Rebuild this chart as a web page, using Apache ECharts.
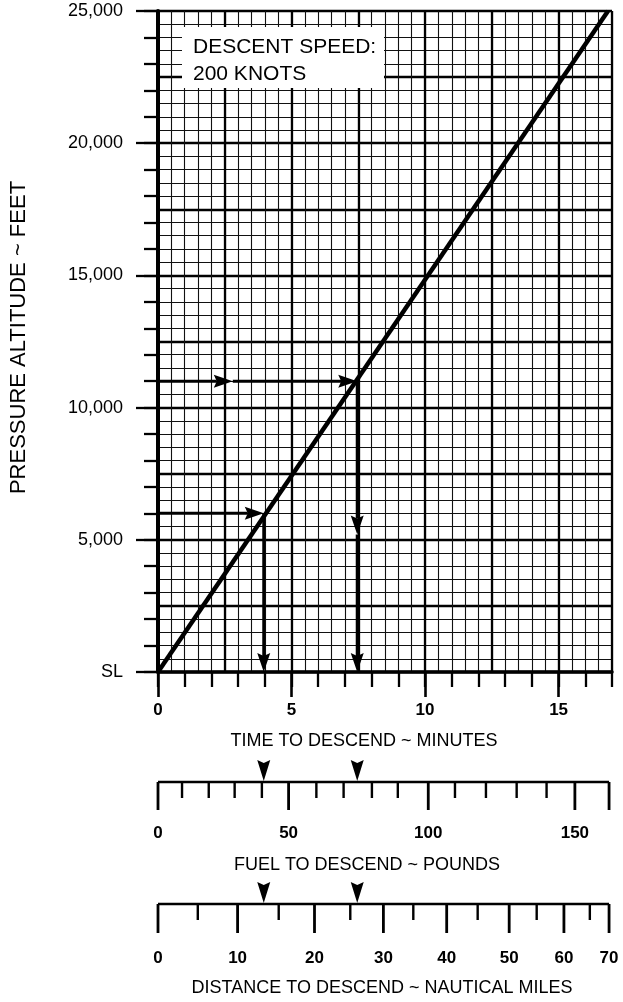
<!DOCTYPE html>
<html><head><meta charset="utf-8">
<script src="https://cdn.jsdelivr.net/npm/echarts@6/dist/echarts.min.js"></script>
<style>html,body{margin:0;padding:0;background:#fff}#c{width:623px;height:1002px}</style>
</head><body><div id="c"></div>
<script>
// ---- data ----
const timeLabelTicks = [0, 5, 10, 15];                 // minutes
const timeMax = 17;
const altMax = 25000;                                  // feet
const descentTime = [0, 16.85];                        // descent line (minutes)
const descentAlt = [0, 25000];                         // descent line (feet)
// example arrows: [x1, y1, x2, y2] in minutes / feet
const arrowSegments = [
  [0, 6000, 3.96, 6000],
  [3.96, 6000, 3.96, 0],
  [0, 11000, 2.8, 11000],
  [2.8, 11000, 7.46, 11000],
  [7.46, 11000, 7.46, 5200],
  [7.46, 5200, 7.46, 0]
];
// fuel scale: tick values (pounds) and their position on the time scale
const fuelTickValues = [0,10,20,30,40,50,60,70,80,90,100,110,120,130,140,150,160];
const fuelTickTimes  = [0,0.90,1.90,2.87,3.89,4.89,5.93,6.95,8.01,8.98,10.12,11.12,12.28,13.43,14.55,15.61,16.89];
const fuelLongTicks  = [0,50,100,150,160];
const fuelLabels     = [0,50,100,150];
// distance scale: tick values (nautical miles) and their position on the time scale
const distTickValues = [0,5,10,15,20,25,30,35,40,45,50,55,60,65,70];
const distTickTimes  = [0,1.49,2.98,4.52,5.86,7.20,8.44,9.56,10.81,11.97,13.15,14.18,15.20,16.17,16.89];
const distLongTicks  = [0,10,20,30,40,50,60,70];
const distLabels     = [0,10,20,30,40,50,60,70];
const scaleArrowTimes = [3.96, 7.46];

const FONT = '"Liberation Sans", Arial, Helvetica, sans-serif';
const BLACK = '#000';

function hiddenPart(){ return {show:false}; }

function arrowHead(tip, ux, uy, L, W, notch){
  const bx = tip[0] - ux*L, by = tip[1] - uy*L;
  const nx = -uy, ny = ux;
  return [
    [tip[0], tip[1]],
    [bx + nx*W, by + ny*W],
    [tip[0] - ux*(L-notch), tip[1] - uy*(L-notch)],
    [bx - nx*W, by - ny*W]
  ];
}

function scaleSeries(gridIdx, values, times, longs, labels, longLen, shortLen, labelOff){
  const longSet = new Set(longs), labelSet = new Set(labels);
  return [{
    type:'line', xAxisIndex: 3+gridIdx, yAxisIndex: 3+gridIdx,
    data: [[times[0],1],[times[times.length-1],1]],
    symbol:'none', silent:true, clip:false,
    lineStyle:{color:BLACK, width:2.6}
  },{
    type:'custom', xAxisIndex: 3+gridIdx, yAxisIndex: 3+gridIdx, clip:false, silent:true,
    data: values.map((v,i)=>[times[i], v]),
    renderItem: function(params, api){
      const v = api.value(1);
      const p = api.coord([api.value(0), 1]);
      const len = longSet.has(v) ? longLen : shortLen;
      const children = [{
        type:'line', shape:{x1:p[0], y1:p[1], x2:p[0], y2:p[1]+len},
        style:{stroke:BLACK, lineWidth: longSet.has(v)?2.8:2.4}
      }];
      if (labelSet.has(v)) {
        children.push({type:'text', style:{text:String(v), x:p[0], y:p[1]+labelOff,
          align:'center', verticalAlign:'middle', font:'bold 17px '+FONT, fill:BLACK}});
      }
      return {type:'group', children};
    }
  },{
    type:'custom', xAxisIndex: 3+gridIdx, yAxisIndex: 3+gridIdx, clip:false, silent:true,
    data: scaleArrowTimes.map(t=>[t,1]),
    renderItem: function(params, api){
      const p = api.coord([api.value(0), api.value(1)]);
      return {type:'polygon', shape:{points: arrowHead([p[0], p[1]-1], 0, 1, 21, 6.5, 3)},
        style:{fill:BLACK}};
    }
  }];
}

const chart = echarts.init(document.getElementById('c'), null, {renderer:'canvas'});
const option = {
  animation:false,
  backgroundColor:'#fff',
  textStyle:{fontFamily:FONT, color:BLACK},
  grid:[
    {left:158, right:11, top:11, bottom:330},
    {left:158, right:11, top:782, height:40},
    {left:158, right:11, top:904, height:40}
  ],
  xAxis:[
    {type:'value', gridIndex:0, min:0, max:timeMax, interval:0.5, position:'bottom',
      axisLine:hiddenPart(), axisTick:hiddenPart(), axisLabel:hiddenPart(),
      splitLine:{show:true, lineStyle:{color:'#111', width:1.1}}},
    {type:'value', gridIndex:0, min:0, max:timeMax, interval:2.5, position:'bottom',
      axisLine:hiddenPart(), axisTick:hiddenPart(), axisLabel:hiddenPart(),
      splitLine:{show:true, lineStyle:{color:BLACK, width:2.3}}},
    {type:'value', gridIndex:0, min:0, max:timeMax, interval:1, position:'bottom',
      axisLine:hiddenPart(), axisLabel:hiddenPart(), splitLine:hiddenPart(),
      axisTick:{show:true, length:15, lineStyle:{color:BLACK, width:2.3}}},
    {type:'value', gridIndex:0, min:0, max:timeMax, interval:5, position:'bottom',
      axisLine:{show:true, onZero:false, lineStyle:{color:BLACK, width:3.5}},
      axisTick:{show:true, customValues:timeLabelTicks, length:25, lineStyle:{color:BLACK, width:2.6}},
      axisLabel:{show:true, customValues:timeLabelTicks, margin:30, fontSize:17, fontWeight:'bold', color:BLACK, fontFamily:FONT},
      splitLine:hiddenPart()},
    {type:'value', gridIndex:1, min:0, max:timeMax, show:false},
    {type:'value', gridIndex:2, min:0, max:timeMax, show:false}
  ],
  yAxis:[
    {type:'value', gridIndex:0, min:0, max:altMax, interval:500, position:'left',
      axisLine:hiddenPart(), axisTick:hiddenPart(), axisLabel:hiddenPart(),
      splitLine:{show:true, lineStyle:{color:'#111', width:1.1}}},
    {type:'value', gridIndex:0, min:0, max:altMax, interval:2500, position:'left',
      axisLine:hiddenPart(), axisTick:hiddenPart(), axisLabel:hiddenPart(),
      splitLine:{show:true, lineStyle:{color:BLACK, width:2.3}}},
    {type:'value', gridIndex:0, min:0, max:altMax, interval:1000, position:'left',
      axisLine:hiddenPart(), axisLabel:hiddenPart(), splitLine:hiddenPart(),
      axisTick:{show:true, length:14, lineStyle:{color:BLACK, width:2.3}}},
    {type:'value', gridIndex:0, min:0, max:altMax, interval:5000, position:'left',
      axisLine:{show:true, onZero:false, lineStyle:{color:BLACK, width:4}},
      axisTick:{show:true, length:22, lineStyle:{color:BLACK, width:2.3}},
      axisLabel:{show:true, margin:35, fontSize:18, color:BLACK, fontFamily:FONT,
        formatter:v => v===0 ? 'SL' : v.toLocaleString('en-US')},
      splitLine:hiddenPart()},
    {type:'value', gridIndex:1, min:0, max:1, show:false},
    {type:'value', gridIndex:2, min:0, max:1, show:false}
  ],
  graphic:{elements:[
    {type:'rect', z:100, shape:{x:182, y:27, width:202, height:61}, style:{fill:'#fff'}},
    {type:'text', z:101, x:193, y:47.5, style:{text:'DESCENT SPEED:', font:'21px '+FONT, fill:BLACK, verticalAlign:'middle'}},
    {type:'text', z:101, x:193, y:74.5, style:{text:'200 KNOTS', font:'21px '+FONT, fill:BLACK, verticalAlign:'middle'}},
    {type:'text', z:101, x:19, y:337.5, rotation:Math.PI/2,
      style:{text:'PRESSURE ALTITUDE ~ FEET', font:'22px '+FONT, fill:BLACK, align:'center', verticalAlign:'middle'}},
    {type:'text', z:101, x:364, y:741, style:{text:'TIME TO DESCEND ~ MINUTES', font:'18px '+FONT, fill:BLACK, align:'center', verticalAlign:'middle'}},
    {type:'text', z:101, x:367, y:865, style:{text:'FUEL TO DESCEND ~ POUNDS', font:'18px '+FONT, fill:BLACK, align:'center', verticalAlign:'middle'}},
    {type:'text', z:101, x:382, y:988, style:{text:'DISTANCE TO DESCEND ~ NAUTICAL MILES', font:'18px '+FONT, fill:BLACK, align:'center', verticalAlign:'middle'}}
  ]},
  series:[
    {type:'line', xAxisIndex:3, yAxisIndex:3, z:5, symbol:'none', silent:true,
      data: descentTime.map((t,i)=>[t, descentAlt[i]]),
      lineStyle:{color:BLACK, width:4.5}},
    {type:'custom', xAxisIndex:3, yAxisIndex:3, z:6, silent:true, clip:false,
      encode:{x:[0,2], y:[1,3]},
      data: arrowSegments,
      renderItem: function(params, api){
        const p1 = api.coord([api.value(0), api.value(1)]);
        const p2 = api.coord([api.value(2), api.value(3)]);
        const dx = p2[0]-p1[0], dy = p2[1]-p1[1];
        const d = Math.sqrt(dx*dx+dy*dy) || 1;
        const ux = dx/d, uy = dy/d;
        const L = 19, notch = 3;
        return {type:'group', children:[
          {type:'line', shape:{x1:p1[0], y1:p1[1], x2:p2[0]-ux*(L-notch), y2:p2[1]-uy*(L-notch)},
            style:{stroke:BLACK, lineWidth:3}},
          {type:'polygon', shape:{points: arrowHead(p2, ux, uy, L, 6.5, notch)}, style:{fill:BLACK}}
        ]};
      }},
    ...scaleSeries(1, fuelTickValues, fuelTickTimes, fuelLongTicks, fuelLabels, 28, 16, 51),
    ...scaleSeries(2, distTickValues, distTickTimes, distLongTicks, distLabels, 29, 16, 54)
  ]
};
chart.setOption(option);
</script></body></html>
